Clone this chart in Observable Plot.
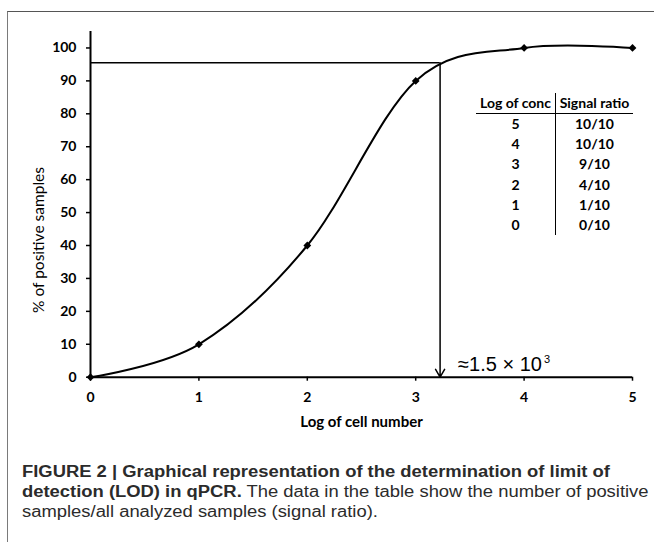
<!DOCTYPE html>
<html>
<head>
<meta charset="utf-8">
<script src="https://cdn.jsdelivr.net/npm/d3@7"></script>
<script src="https://cdn.jsdelivr.net/npm/@observablehq/plot@0.6"></script>
<style>
  html, body { margin: 0; padding: 0; background: #fff; }
  #wrap { position: relative; width: 654px; height: 542px; overflow: hidden; background: #fff; }
  #frame { position: absolute; left: 7px; top: 11px; width: 700px; height: 600px;
           border-left: 1.5px solid #7a7a7a; border-top: 1.5px solid #555; }
  #chart { position: absolute; left: 0; top: 0; }
  #ytitle { position: absolute; left: 39px; top: 240px; transform: translate(-50%, -50%) rotate(-90deg);
            font-family: Lato, sans-serif; font-size: 15.5px; color: #000; white-space: nowrap; line-height: 1; }
  #tbl { position: absolute; left: 476px; top: 93px; border-collapse: collapse;
         font-family: Lato, sans-serif; font-weight: bold; font-size: 14px; color: #000; }
  #tbl td, #tbl th { padding: 0; text-align: center; line-height: 20.2px; }
  #tbl th { border-bottom: 1.5px solid #000; line-height: 20px; font-weight: bold; }
  #tbl .c1 { width: 79px; border-right: 1px solid #000; }
  #tbl .c2 { width: 77px; }
  #caption { position: absolute; left: 22px; top: 462px;
             font-family: "Liberation Sans", Arial, sans-serif; font-size: 16px; line-height: 20px;
             color: #2b2b2b; white-space: nowrap; transform: scaleX(1.15); transform-origin: 0 0; }
</style>
</head>
<body>
<div id="wrap">
  <div id="frame"></div>
  <div id="chart"></div>
  <div id="ytitle"></div>
  <table id="tbl"></table>
  <div id="caption"><b>FIGURE 2 | Graphical representation of the determination of limit of<br>detection (LOD) in qPCR.</b> The data in the table show the number of positive<br>samples/all analyzed samples (signal ratio).</div>
</div>
<script>
// ---- data ----
const logCellNumber = [0, 1, 2, 3, 4, 5];
const percentPositive = [0, 10, 40, 90, 100, 100];
const xTicks = [0, 1, 2, 3, 4, 5];
const yTicks = [0, 10, 20, 30, 40, 50, 60, 70, 80, 90, 100];
const lodLog = 3.225;      // log of cell number at LOD
const lodPercent = 95.5;   // % positive level used for LOD
const lodLabel = "≈1.5 × 10";
const lodExponent = "3";
const tableHeader = ["Log of conc", "Signal ratio"];
const tableConc = ["5", "4", "3", "2", "1", "0"];
const tableRatio = ["10/10", "10/10", "9/10", "4/10", "1/10", "0/10"];
const xTitle = "Log of cell number";
const yTitle = "% of positive samples";

const points = logCellNumber.map((x, i) => ({x, y: percentPositive[i]}));

const chart = Plot.plot({
  width: 654,
  height: 440,
  marginLeft: 90,
  marginRight: 22,
  marginTop: 31,
  marginBottom: 63.3,
  style: {fontFamily: "Lato, sans-serif", fontSize: "14px", fontWeight: "bold", color: "#000", background: "transparent"},
  x: {domain: [0, 5]},
  y: {domain: [0, 105]},
  marks: [
    Plot.axisX({ticks: xTicks, tickSize: 4, tickPadding: 11, tickFormat: d => String(d), label: null, strokeWidth: 1.5}),
    Plot.axisY({ticks: yTicks, tickSize: 4, tickPadding: 10, tickFormat: d => String(d), label: null, strokeWidth: 1.5}),
    Plot.ruleX([0], {stroke: "#000", strokeWidth: 2}),
    Plot.ruleY([0], {stroke: "#000", strokeWidth: 2}),
    Plot.ruleY([lodPercent], {x1: 0, x2: lodLog, stroke: "#000", strokeWidth: 1.5}),
    Plot.arrow([{}], {x1: lodLog, y1: lodPercent, x2: lodLog, y2: 0, stroke: "#000", strokeWidth: 1.5, headLength: 9, headAngle: 60}),
    Plot.line(points, {x: "x", y: "y", curve: d3.curveCardinal.tension(0), stroke: "#000", strokeWidth: 2}),
    Plot.dot(points, {x: "x", y: "y", symbol: "diamond2", r: 3.5, fill: "#000", stroke: "none"}),
    Plot.text([lodLabel], {x: lodLog, y: 0, text: d => d, textAnchor: "start", lineAnchor: "bottom", dx: 18, dy: -6,
      fontFamily: "Liberation Sans, Arial, sans-serif", fontWeight: "normal", fontSize: 20}),
    Plot.text([lodExponent], {x: lodLog, y: 0, text: d => d, textAnchor: "start", lineAnchor: "bottom", dx: 104, dy: -14.5,
      fontFamily: "Liberation Sans, Arial, sans-serif", fontWeight: "normal", fontSize: 11}),
    Plot.text([xTitle], {frameAnchor: "bottom", text: d => d, dy: 45, lineAnchor: "middle", fontSize: 15, fontWeight: "bold"})
  ]
});
document.getElementById("chart").appendChild(chart);
document.getElementById("ytitle").textContent = yTitle;

// ---- table ----
const tbl = document.getElementById("tbl");
const head = document.createElement("tr");
tableHeader.forEach((h, i) => {
  const th = document.createElement("th");
  th.className = i === 0 ? "c1" : "c2";
  th.textContent = h;
  head.appendChild(th);
});
tbl.appendChild(head);
tableConc.forEach((c, i) => {
  const tr = document.createElement("tr");
  const a = document.createElement("td"); a.className = "c1"; a.textContent = c;
  const b = document.createElement("td"); b.className = "c2"; b.textContent = tableRatio[i];
  tr.appendChild(a); tr.appendChild(b);
  tbl.appendChild(tr);
});
</script>
</body>
</html>
